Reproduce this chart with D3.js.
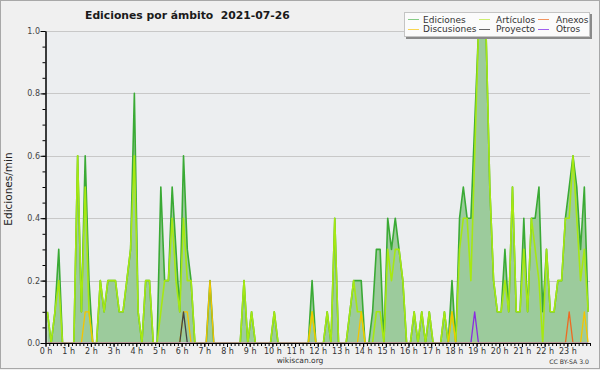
<!DOCTYPE html>
<html lang="es">
<head>
<meta charset="UTF-8">
<script src="https://d3js.org/d3.v7.min.js"></script>
<title>Ediciones por ámbito</title>
<style>
  body { margin: 0; background: #f0f0f0; }
  svg text { font-family: "DejaVu Sans", sans-serif; }
</style>
</head>
<body>
<svg id="chart" width="600" height="370"></svg>
<script>
// one value per 10 minutes, six values per hour (edits per minute)
var ediciones = [
  0.1,0,0.1,0.3,0,0,      0,0,0.6,0.1,0.6,0.2,    0,0,0.2,0.1,0.2,0.2,    0.2,0.1,0.1,0.2,0.3,0.8,
  0.1,0,0.2,0.2,0,0,      0.5,0.2,0.2,0.5,0.3,0.1, 0.6,0.3,0.2,0,0,0,     0,0.2,0,0,0,0,
  0,0,0,0,0.2,0,          0.1,0,0,0,0,0,          0.1,0,0,0,0,0,          0,0,0,0,0.2,0,
  0,0,0.1,0,0.4,0,        0,0,0.1,0.2,0.2,0.2,    0,0,0.1,0.3,0.3,0,      0.4,0.3,0.4,0.3,0.2,0,
  0,0.1,0,0.1,0,0.1,      0,0,0,0.1,0,0.2,        0,0.4,0.5,0.4,0.4,0.7,  1,1,1,0.5,0.2,0.1,
  0.1,0.3,0.1,0.5,0.1,0.1, 0.4,0.1,0.4,0.4,0.5,0.1, 0.3,0.1,0.1,0.2,0.2,0.4, 0.5,0.6,0.5,0.3,0.5,0.1
];
var articulos = [
  0.1,0,0.1,0.2,0,0,      0,0,0.6,0.1,0.5,0.1,    0,0,0.2,0.1,0.2,0.2,    0.2,0.1,0.1,0.2,0.3,0.6,
  0.1,0,0.2,0.2,0,0,      0.1,0.2,0.2,0.4,0.2,0.1, 0.4,0.2,0.2,0,0,0,     0,0,0,0,0,0,
  0,0,0,0,0.2,0,          0.1,0,0,0,0,0,          0.1,0,0,0,0,0,          0,0,0,0,0.1,0,
  0,0,0.1,0,0.4,0,        0,0,0.1,0.2,0.1,0.1,    0,0,0,0.1,0.1,0,        0.3,0.2,0.3,0.3,0.2,0,
  0,0.1,0,0.1,0,0.1,      0,0,0,0.1,0,0.1,        0,0.3,0.4,0.4,0.2,0.6,  1,1,1,0.5,0.2,0.1,
  0.1,0.2,0.1,0.5,0.1,0.1, 0.3,0.1,0.4,0.3,0.2,0,  0.3,0.1,0.1,0.2,0.2,0.4, 0.4,0.6,0.4,0.2,0.3,0.1
];
var discusiones = [
  0,0,0,0,0,0,  0,0,0,0,0.1,0.1,  0,0,0,0,0,0,  0,0,0,0,0,0,
  0,0,0,0,0,0,  0,0,0,0,0,0,      0.1,0.1,0,0,0,0, 0,0.2,0,0,0,0,
  0,0,0,0,0,0,  0,0,0,0,0,0,      0,0,0,0,0,0,  0,0,0,0,0.1,0,
  0,0,0,0,0,0,  0,0,0,0,0,0.1,    0,0,0,0,0,0,  0,0,0,0,0,0,
  0,0,0,0,0,0,  0,0,0,0,0,0.1,    0,0,0,0,0,0,  0,0,0,0,0,0,
  0,0,0,0,0,0,  0,0,0,0,0,0,      0,0,0,0,0,0,  0,0,0,0,0.1,0
];
var anexos = [
  0,0,0,0,0,0, 0,0,0,0,0,0, 0,0,0,0,0,0, 0,0,0,0,0,0,
  0,0,0,0,0,0, 0,0,0,0,0,0, 0,0,0,0,0,0, 0,0,0,0,0,0,
  0,0,0,0,0,0, 0,0,0,0,0,0, 0,0,0,0,0,0, 0,0,0,0,0,0,
  0,0,0,0,0,0, 0,0,0,0,0,0, 0,0,0,0,0,0, 0,0,0,0,0,0,
  0,0,0,0,0,0, 0,0,0,0,0,0, 0,0,0,0,0,0, 0,0,0,0,0,0,
  0,0,0,0,0,0, 0,0,0,0,0,0, 0,0,0,0,0,0, 0.1,0,0,0,0,0
];
var proyecto = [
  0,0,0,0,0,0, 0,0,0,0,0,0, 0,0,0,0,0,0, 0,0,0,0,0,0,
  0,0,0,0,0,0, 0,0,0,0,0,0, 0.1,0,0,0,0,0, 0,0,0,0,0,0,
  0,0,0,0,0,0, 0,0,0,0,0,0, 0,0,0,0,0,0, 0,0,0,0,0,0,
  0,0,0,0,0,0, 0,0,0,0,0,0, 0,0,0,0,0,0, 0,0,0,0,0,0,
  0,0,0,0,0,0, 0,0,0,0,0,0, 0,0,0,0,0,0, 0,0,0,0,0,0,
  0,0,0,0,0,0, 0,0,0,0,0,0, 0,0,0,0,0,0, 0,0,0,0,0,0
];
var otros = [
  0,0,0,0,0,0, 0,0,0,0,0,0, 0,0,0,0,0,0, 0,0,0,0,0,0,
  0,0,0,0,0,0, 0,0,0,0,0,0, 0,0,0,0,0,0, 0,0,0,0,0,0,
  0,0,0,0,0,0, 0,0,0,0,0,0, 0,0,0,0,0,0, 0,0,0,0,0,0,
  0,0,0,0,0,0, 0,0,0,0,0,0, 0,0,0,0,0,0, 0,0,0,0,0,0,
  0,0,0,0,0,0, 0,0,0,0,0,0, 0,0,0,0,0,0.1, 0,0,0,0,0,0,
  0,0,0,0,0,0, 0,0,0,0,0,0, 0,0,0,0,0,0, 0,0,0,0,0,0
];

var hourLabels = ["0 h","1 h","2 h","3 h","4 h","5 h","6 h","7 h","8 h","9 h","10 h","11 h",
                  "12 h","13 h","14 h","15 h","16 h","17 h","18 h","19 h","20 h","21 h","22 h","23 h"];
var yTicks = [0, 0.2, 0.4, 0.6, 0.8, 1.0];

// legend order (3 columns x 2 rows)
var legendNames = ["Ediciones", "Artículos", "Anexos", "Discusiones", "Proyecto", "Otros"];
var legendData = [ediciones, articulos, anexos, discusiones, proyecto, otros];
var lineColors = ["#3aaa35", "#a6e812", "#ee6a22", "#f5c400", "#444444", "#8a2be2"];
var keyColors = ["#86cc86", "#cdee70", "#f29560", "#f8d550", "#666666", "#a060ee"];
// drawing order: total first, then articles, then the small ones
var drawOrder = [0, 1, 3, 2, 4, 5];

var svg = d3.select('#chart');
var plotL = 45.5, plotR = 590, plotT = 31, plotB = 343;

// frame
svg.append('rect').attr('x', 0.5).attr('y', 0.5).attr('width', 599).attr('height', 368)
    .attr('fill', '#f0f0f0').attr('stroke', '#a8a8a8');
svg.append('rect').attr('x', plotL).attr('y', plotT).attr('width', plotR - plotL).attr('height', plotB - plotT)
    .attr('fill', '#eceef0');

svg.append('clipPath').attr('id', 'plotclip')
    .append('rect').attr('x', plotL).attr('y', plotT - 2)
    .attr('width', plotR - plotL).attr('height', plotB - plotT + 1.3);

var x = d3.scaleLinear().domain([0, 144]).range([plotL, plotR]);
var y = d3.scaleLinear().domain([0, 1]).range([plotB, plotT]);

// grid
svg.selectAll('.grid')
    .data(yTicks.slice(1))
    .enter().append('line')
    .attr('x1', plotL).attr('x2', plotR)
    .attr('y1', function(d){ return Math.round(y(d)) + 0.5; })
    .attr('y2', function(d){ return Math.round(y(d)) + 0.5; })
    .attr('stroke', '#c8c8c8');

var px = function(d, i){ return x(i + 0.5); };

var plot = svg.append('g').attr('clip-path', 'url(#plotclip)');
var area = d3.area().x(px).y0(y(0)).y1(function(d){ return y(d); });
plot.append('path').datum(ediciones).attr('d', area).attr('fill', '#9ccb9c');

var line = d3.line().x(px).y(function(d){ return y(d); });
drawOrder.forEach(function(k){
    plot.append('path').datum(legendData[k]).attr('d', line)
        .attr('fill', 'none')
        .attr('stroke', lineColors[k])
        .attr('stroke-width', k < 2 ? 1.6 : 1.3)
        .attr('stroke-linejoin', 'round');
});

// y axis
svg.append('g').attr('transform', 'translate(' + plotL + ',0)')
    .call(d3.axisLeft(y).tickValues(d3.range(0, 1.001, 0.05)).tickSize(3).tickSizeOuter(0).tickFormat(''));
var yAxis = svg.append('g').attr('transform', 'translate(' + plotL + ',0)')
    .call(d3.axisLeft(y).tickValues(yTicks).tickSize(5).tickSizeOuter(0).tickPadding(0.5)
        .tickFormat(d3.format('.1f')));
yAxis.selectAll('text').attr('font-size', 8).attr('fill', '#444');

// x axis
svg.append('g').attr('transform', 'translate(0,' + plotB + ')')
    .call(d3.axisBottom(x).tickValues(d3.range(0, 145)).tickSize(3).tickSizeOuter(0).tickFormat(''));
var xAxis = svg.append('g').attr('transform', 'translate(0,' + plotB + ')')
    .call(d3.axisBottom(x).tickValues(d3.range(0, 144, 6)).tickSize(4).tickSizeOuter(0).tickPadding(1.5)
        .tickFormat(function(d, i){ return hourLabels[i]; }));
xAxis.selectAll('text').attr('font-size', 8).attr('fill', '#333');
svg.selectAll('.domain').attr('stroke', '#000');
svg.selectAll('.tick line').attr('stroke', '#000');

// title and labels
svg.append('text').attr('x', 85).attr('y', 19)
    .attr('font-size', 10.8).attr('font-weight', 'bold').attr('fill', '#1a1a1a')
    .attr('xml:space', 'preserve').style('white-space', 'pre')
    .text('Ediciones por ámbito  2021-07-26');
svg.append('text').attr('transform', 'translate(12,189) rotate(-90)')
    .attr('text-anchor', 'middle').attr('font-size', 10.5).attr('fill', '#222')
    .text('Ediciones/min');
svg.append('text').attr('x', 300).attr('y', 363).attr('text-anchor', 'middle')
    .attr('font-size', 7.5).attr('fill', '#333').text('wikiscan.org');
svg.append('text').attr('x', 589).attr('y', 364).attr('text-anchor', 'end')
    .attr('font-size', 6.2).attr('fill', '#333').text('CC BY-SA 3.0');

// legend
var lg = svg.append('g');
lg.append('rect').attr('x', 406).attr('y', 14).attr('width', 186).attr('height', 25).attr('fill', '#8a8a8a');
lg.append('rect').attr('x', 404.5).attr('y', 12.5).attr('width', 185).attr('height', 24)
    .attr('fill', '#fbfbfb').attr('stroke', '#c4c4c4');
var colX = [408, 479, 538];
var textX = [423, 496, 556];
legendNames.forEach(function(name, i){
    var c = i % 3, r = Math.floor(i / 3);
    var ly = r == 0 ? 19.5 : 29.5;
    lg.append('line').attr('x1', colX[c]).attr('x2', colX[c] + 11)
        .attr('y1', ly).attr('y2', ly)
        .attr('stroke', keyColors[i]);
    lg.append('text').attr('x', textX[c]).attr('y', r == 0 ? 22.5 : 32)
        .attr('font-size', 9).attr('fill', '#333').text(name);
});
</script>
</body>
</html>
